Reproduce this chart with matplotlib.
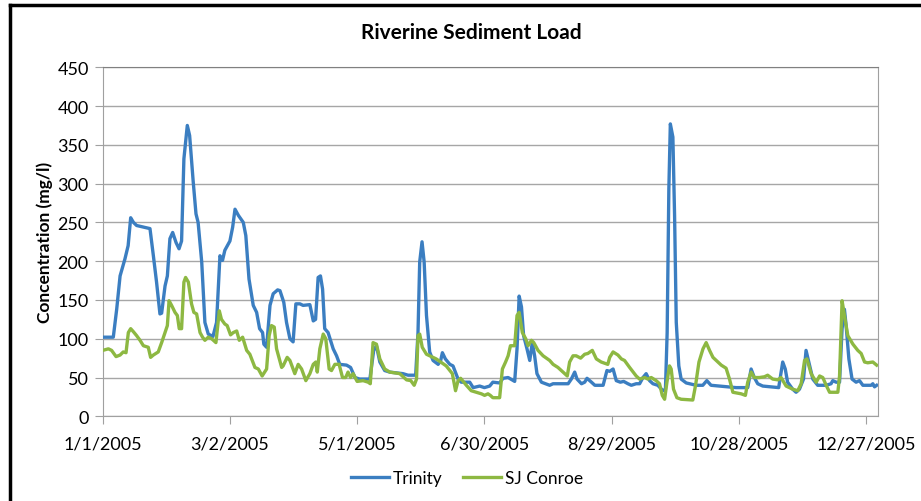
import matplotlib
matplotlib.use('Agg')
import matplotlib.pyplot as plt
import matplotlib.dates as mdates
import matplotlib.ticker as ticker
from matplotlib.lines import Line2D
import datetime as dt

# days since 1/1/2005 and concentrations (mg/l)
trinity_day = [0, 5, 6.6, 8.2, 10.5, 12, 13.2, 14.5, 16, 22.3, 23.9, 25.4, 27, 27.8, 29.4, 30.5,
               31.7, 33, 34.6, 36, 37.2, 38.3, 39.9, 41, 42.7, 44, 45, 46.7, 48.2, 49.8, 52,
               53.7, 55.3, 56.5, 57.6, 60, 61.3, 62.4, 64, 66.3, 67.5, 69, 71, 72.6, 74, 75.4,
               76, 77.3, 78.9, 80.4, 82.5, 83.6, 85.4, 86.7, 88.3, 89.8, 91.1, 93, 94.5, 97.7,
               99.3, 100.4, 101.6, 102.7, 103.7, 104.7, 106.3, 108.7, 110.3, 111.8, 115, 116.9,
               119, 121.2, 126, 127.8, 129.1, 130.7, 133, 135.4, 141.6, 144, 147.6, 148.7,
               149.5, 150.6, 151.6, 152.7, 154.2, 155.8, 158.2, 159.4, 160.2, 161.6, 163.7,
               165.2, 167.6, 169.1, 173.1, 174.7, 177.8, 180, 182.5, 184, 187.2, 188.8, 191.2,
               194.3, 195.4, 196.4, 197.5, 198.5, 200.1, 201.4, 202.6, 203.7, 204.8, 206.9,
               210.8, 212.4, 219.5, 221, 222.6, 223.7, 225.8, 227.3, 228.4, 230.5, 232.1, 236,
               237.8, 239.1, 240.7, 242.2, 244.1, 245.7, 247.7, 249.3, 251.6, 253.2, 254.8,
               256.3, 257.9, 259.5, 261.8, 264.2, 265.4, 266.2, 267, 267.7, 268.9, 269.7,
               270.5, 271.7, 272.8, 275.2, 279.9, 283, 284.9, 286.9, 298.7, 304.2, 305.8,
               307.3, 308.9, 311.3, 318.8, 320.7, 321.9, 323, 325.4, 327, 328.6, 330.5, 331.7,
               333, 334.9, 337.2, 341.2, 343.5, 344.3, 345.9, 347.5, 348.7, 349.8, 350.6,
               351.9, 353.4, 355.3, 356.9, 358.5, 362.4, 363.2, 364, 365]
trinity_val = [102, 102, 138, 181, 203, 220, 256, 250, 246, 242, 207, 173, 132, 133, 168, 181,
               229, 237, 224, 216, 226, 332, 375, 362, 302, 261, 250, 199, 121, 106, 103,
               121, 207, 201, 214, 226, 244, 267, 259, 250, 233, 177, 143, 134, 113, 108,
               93, 89, 143, 158, 163, 162, 147, 121, 100, 96, 145, 145, 143, 144,
               123, 125, 179, 181, 164, 113, 108, 87, 78, 67, 66, 63,
               50, 48, 48, 85, 91, 70, 59, 57, 55, 53, 53, 108,
               199, 225, 199, 130, 83, 72, 67, 72, 82, 74, 67,
               65, 48, 44, 44, 37, 39, 37, 39, 44, 43, 49, 50,
               45, 87, 155, 141, 104, 87, 72, 95, 78, 55, 44,
               40, 42, 42, 48, 57, 48, 42, 44, 49, 44, 40, 40,
               59, 58, 61, 46, 44, 45, 42, 40, 42, 42, 50,
               55, 46, 42, 40, 33, 35, 108, 293, 377, 360, 259,
               121, 65, 48, 43, 40, 40, 46, 40, 37, 37, 61,
               50, 42, 39, 37, 70, 61, 44, 35, 31, 35, 48, 85,
               70, 48, 40, 40, 42, 46, 44, 44, 113, 138, 117,
               74, 48, 44, 46, 40, 40, 42, 38, 40]

conroe_day = [0, 2.7, 4.2, 6.3, 8.2, 9.7, 11, 12.1, 13.2, 14.5, 16, 17.6, 19.2, 21.5, 22.6,
              23.9, 26.2, 27.8, 29.4, 30.5, 31.3, 32.5, 34.1, 35.2, 36.1, 37.2, 38.3, 39.1,
              40.4, 41.9, 43, 44.3, 45.9, 47.1, 48.2, 49.8, 51.4, 53.4, 55, 56, 57.6, 58.7,
              60.3, 61.6, 63.2, 64.4, 66, 67.9, 69.4, 71.8, 73.4, 75.2, 77.3, 78.5, 79.6,
              80.9, 82, 84.4, 85.1, 87, 88.3, 89.5, 90.6, 92.2, 93.8, 95.8, 97.7, 99.3, 100.5,
              101.2, 102.4, 104, 105.2, 106.8, 107.9, 109.5, 111.5, 113.1, 114.6, 115.7,
              116.9, 118.1, 120, 122.8, 125.2, 126.2, 127.5, 129.1, 130.7, 133, 135.4, 140.1,
              143.3, 145.3, 146.9, 148, 148.7, 149.5, 150.7, 152.7, 157.3, 162, 164.9, 166.4,
              167.6, 168.8, 171.5, 173.8, 176.2, 178.6, 180.1, 181.7, 182.8, 184, 187.2,
              188.5, 190, 191.2, 192.3, 194.3, 195.4, 196.4, 197.9, 199.5, 200.6, 202.2,
              203.3, 205.3, 207.7, 210.8, 212.4, 214.7, 217.1, 219.1, 220.2, 221.8, 223.3,
              225.4, 227.3, 228.8, 230.9, 232.8, 235.1, 238.2, 239.1, 240.7, 243, 244.6,
              246.1, 248.5, 251.6, 253.2, 255.6, 257.1, 258.7, 261, 262.6, 263.9, 265,
              266.1, 267.3, 268.1, 269.2, 270.8, 272.8, 278.3, 279.6, 281.2, 283.1, 284.6,
              286.2, 287.8, 290.1, 291.7, 294, 295.6, 297.2, 301.1, 303.1, 304.2, 305.8,
              307.3, 309.7, 312.1, 313.6, 316, 318.4, 319.9, 322.3, 325.4, 327.8, 329.4,
              331, 332.1, 334.1, 336.5, 338.1, 339.6, 341.2, 342.8, 346.7, 347.5, 348.7,
              349.8, 351.4, 353.8, 356.1, 357.7, 359.3, 360.8, 363.2, 365]
conroe_val = [85, 87, 85, 77, 79, 83, 82, 108, 113, 109, 104, 98, 91, 89, 76,
              79, 83, 95, 108, 117, 149, 143, 134, 130, 113, 113, 173, 179,
              173, 145, 134, 132, 108, 102, 98, 102, 100, 95, 136, 125, 119, 117,
              105, 108, 110, 98, 102, 85, 80, 63, 61, 52, 61, 104, 117,
              115, 87, 63, 65, 76, 72, 63, 55, 67, 61, 46, 55, 67, 70,
              57, 87, 106, 100, 61, 59, 67, 67, 50, 50, 57,
              50, 55, 45, 46, 44, 42, 95, 93, 74, 61, 57, 55,
              47, 46, 40, 48, 104, 106, 89, 80, 74, 65, 55, 33,
              46, 49, 40, 33, 31, 29, 27, 29, 27, 24, 24,
              61, 70, 78, 91, 91, 130, 134, 108, 100, 91, 98,
              95, 85, 78, 72, 67, 63, 57, 52, 70, 78, 78,
              75, 80, 81, 85, 74, 70, 67, 76, 83, 79, 74,
              72, 63, 52, 48, 50, 48, 50, 46, 42, 27, 22,
              44, 65, 61, 35, 24, 22, 21, 40, 70, 87, 95,
              85, 76, 70, 66, 62, 48, 31, 29, 27, 44, 57,
              50, 50, 51, 53, 48, 47, 50, 39, 35, 33, 42,
              72, 74, 55, 44, 52, 50, 40, 31, 31, 52, 149,
              130, 104, 93, 85, 81, 70, 69, 70, 66]

start = dt.datetime(2005, 1, 1)
tick_days = [0, 60, 120, 180, 240, 300, 360]

def to_dates(days):
    return [start + dt.timedelta(days=d) for d in days]

plt.rcParams['font.family'] = ['Lato', 'DejaVu Sans']

fig = plt.figure(figsize=(9.21, 5.02), dpi=100)
ax = fig.add_axes([0.1115, 0.1687, 0.8415, 0.6953])

blue = '#3B7EC1'
green = '#8DB842'
ax.plot(to_dates(trinity_day), trinity_val, color=blue, lw=2.4, label='Trinity', zorder=3)
ax.plot(to_dates(conroe_day), conroe_val, color=green, lw=2.4, label='SJ Conroe', zorder=3)

ax.set_ylim(0, 450)
ax.yaxis.set_major_locator(ticker.MultipleLocator(50))
ax.set_xlim(start, start + dt.timedelta(days=365.5))
ax.set_xticks(to_dates(tick_days))
ax.xaxis.set_major_formatter(ticker.FuncFormatter(
    lambda v, p: '{d.month}/{d.day}/{d.year}'.format(d=mdates.num2date(v))))

ax.grid(axis='y', color='#A6A6A6', lw=1)
ax.set_axisbelow(True)
for s in ax.spines.values():
    s.set_color('#A0A0A0')
ax.spines['top'].set_color('#808080')
ax.tick_params(axis='both', direction='out', length=6, color='#A0A0A0',
               labelsize=13, pad=4)
ax.tick_params(axis='x', pad=8)

ax.set_ylabel('Concentration (mg/l)', fontsize=12.5, fontweight='bold', labelpad=3)
fig.text(471 / 921, 1 - 33 / 502, 'Riverine Sediment Load', fontsize=15,
         fontweight='bold', ha='center', va='center')

ax.legend(loc='upper center', bbox_to_anchor=(0.47, -0.11), ncol=2, frameon=False,
          fontsize=12.5, handlelength=2.2, handletextpad=0.2, columnspacing=1.2)

# outer chart frame (top and left visible in the crop)
fig.add_artist(Line2D([10 / 921, 10 / 921], [0, 1 - 6 / 502], color='black', lw=2.5))
fig.add_artist(Line2D([10 / 921, 1], [1 - 6 / 502, 1 - 6 / 502], color='black', lw=2.5))

plt.savefig('out.png', dpi=100)
